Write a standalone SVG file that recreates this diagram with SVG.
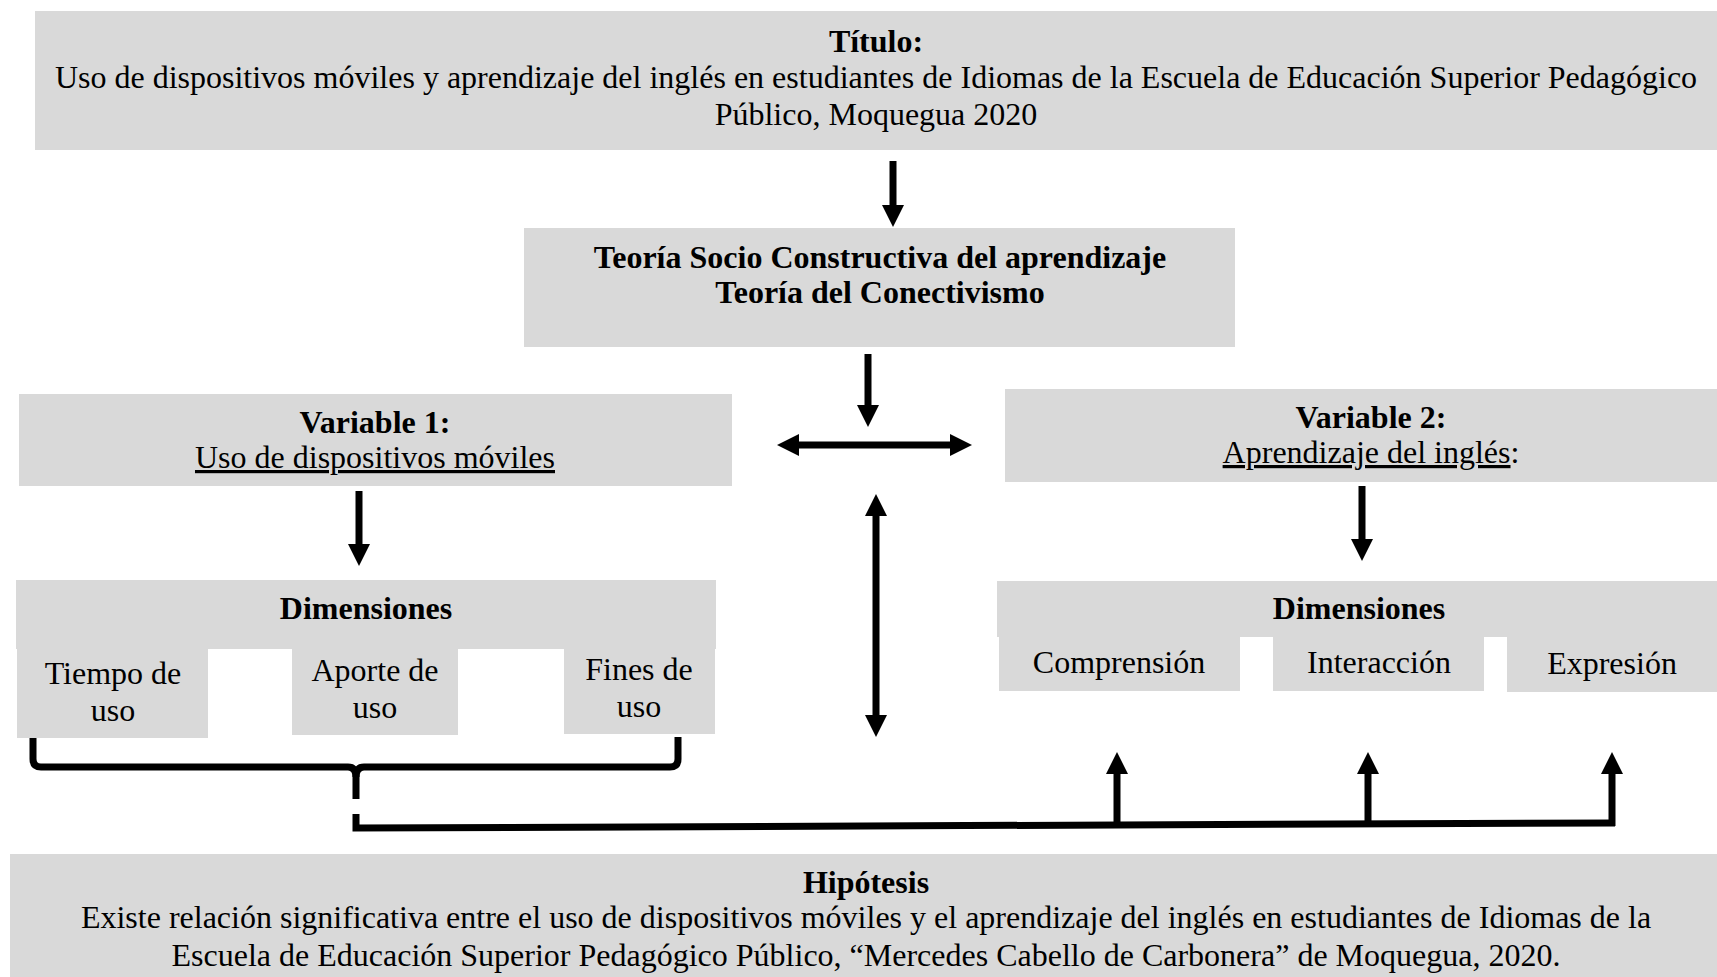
<svg xmlns="http://www.w3.org/2000/svg" width="1717" height="977" viewBox="0 0 1717 977">
<style>
.box{fill:#d9d9d9}
.t{font-family:"Liberation Serif","Times New Roman",serif;font-size:32px;fill:#000;text-anchor:middle}
.b{font-weight:bold}
.u{text-decoration:underline}
.ln{stroke:#000;stroke-width:7;fill:none}
</style>
<defs>
<marker id="ah" viewBox="0 0 22 22" refX="1" refY="11" markerWidth="22" markerHeight="22" markerUnits="userSpaceOnUse" orient="auto-start-reverse">
<path d="M0,0 L22,11 L0,22 Z" fill="#000"/>
</marker>
</defs>
<rect width="1717" height="977" fill="#fff"/>

<g id="titulo">
<rect class="box" x="35" y="11" width="1682" height="139"/>
<text class="t b" x="876" y="52">Título:</text>
<text class="t" x="876" y="88">Uso de dispositivos móviles y aprendizaje del inglés en estudiantes de Idiomas de la Escuela de Educación Superior Pedagógico</text>
<text class="t" x="876" y="125">Público, Moquegua 2020</text>
</g>

<g id="teoria">
<rect class="box" x="524" y="228" width="711" height="119"/>
<text class="t b" x="880" y="268">Teoría Socio Constructiva del aprendizaje</text>
<text class="t b" x="880" y="303">Teoría del Conectivismo</text>
</g>

<g id="variable1">
<rect class="box" x="19" y="394" width="713" height="92"/>
<text class="t b" x="375" y="433">Variable 1:</text>
<text class="t u" x="375" y="468">Uso de dispositivos móviles</text>
</g>

<g id="variable2">
<rect class="box" x="1005" y="389" width="712" height="93"/>
<text class="t b" x="1371" y="428">Variable 2:</text>
<text class="t" x="1371" y="463"><tspan class="u">Aprendizaje del inglés</tspan>:</text>
</g>

<g id="dimensiones1">
<rect class="box" x="16" y="580" width="700" height="69"/>
<text class="t b" x="366" y="619">Dimensiones</text>
</g>
<g id="tiempo">
<rect class="box" x="17" y="648" width="191" height="90"/>
<text class="t" x="113" y="684">Tiempo de</text>
<text class="t" x="113" y="721">uso</text>
</g>
<g id="aporte">
<rect class="box" x="292" y="648" width="166" height="87"/>
<text class="t" x="375" y="681">Aporte de</text>
<text class="t" x="375" y="718">uso</text>
</g>
<g id="fines">
<rect class="box" x="564" y="648" width="151" height="86"/>
<text class="t" x="639" y="680">Fines de</text>
<text class="t" x="639" y="717">uso</text>
</g>

<g id="dimensiones2">
<rect class="box" x="997" y="581" width="720" height="56"/>
<text class="t b" x="1359" y="619">Dimensiones</text>
</g>
<g id="comprension">
<rect class="box" x="999" y="636" width="241" height="55"/>
<text class="t" x="1119" y="673">Comprensión</text>
</g>
<g id="interaccion">
<rect class="box" x="1273" y="636" width="211" height="55"/>
<text class="t" x="1379" y="673">Interacción</text>
</g>
<g id="expresion">
<rect class="box" x="1507" y="636" width="210" height="56"/>
<text class="t" x="1612" y="674">Expresión</text>
</g>

<g id="hipotesis">
<rect class="box" x="10" y="854" width="1707" height="123"/>
<text class="t b" x="866" y="893">Hipótesis</text>
<text class="t" x="866" y="928">Existe relación significativa entre el uso de dispositivos móviles y el aprendizaje del inglés en estudiantes de Idiomas de la</text>
<text class="t" x="866" y="966">Escuela de Educación Superior Pedagógico Público, “Mercedes Cabello de Carbonera” de Moquegua, 2020.</text>
</g>

<g id="connectors">
<line class="ln" x1="893" y1="161" x2="893" y2="206" marker-end="url(#ah)"/>
<line class="ln" x1="868" y1="354" x2="868" y2="406" marker-end="url(#ah)"/>
<line class="ln" x1="798" y1="445" x2="951" y2="445" marker-start="url(#ah)" marker-end="url(#ah)"/>
<line class="ln" x1="876" y1="515" x2="876" y2="716" marker-start="url(#ah)" marker-end="url(#ah)"/>
<line class="ln" x1="359" y1="491" x2="359" y2="545" marker-end="url(#ah)"/>
<line class="ln" x1="1362" y1="486" x2="1362" y2="540" marker-end="url(#ah)"/>
<path class="ln" d="M33,738 L33,759 Q33,767 41,767 L348,767 Q356,767 356,777 L356,799"/>
<path class="ln" d="M678,737 L678,759 Q678,767 670,767 L364,767 Q356,767 356,777"/>
<path class="ln" d="M356,814 L356,828 L1615,823"/>
<line class="ln" x1="1117" y1="827" x2="1117" y2="773" marker-end="url(#ah)"/>
<line class="ln" x1="1368" y1="826" x2="1368" y2="773" marker-end="url(#ah)"/>
<line class="ln" x1="1612" y1="826" x2="1612" y2="773" marker-end="url(#ah)"/>
</g>
</svg>
